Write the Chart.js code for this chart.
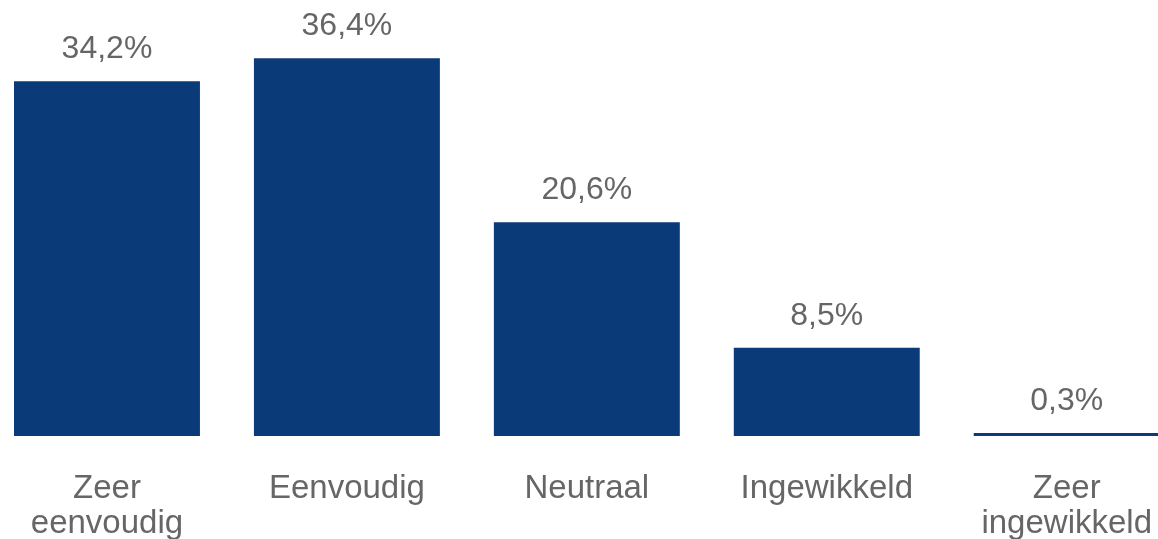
<!DOCTYPE html>
<html>
<head>
	<script src="https://cdn.jsdelivr.net/npm/chart.js@4/dist/chart.umd.min.js"></script>
	<style>
		html, body {
			margin: 0;
			padding: 0;
			background: #ffffff;
			overflow: hidden;
		}
		#wrapper {
			position: absolute;
			left: -13px;
			top: 0;
			width: 1200px;
			height: 539px;
		}
	</style>
</head>
<body>
	<div id="wrapper"><canvas id="myChart"></canvas></div>
	<script>
		// categories (multi-line labels) and percentages
		var categories = [["Zeer", "eenvoudig"], ["Eenvoudig"], ["Neutraal"], ["Ingewikkeld"], ["Zeer", "ingewikkeld"]];
		var percentages = [34.2, 36.4, 20.6, 8.5, 0.3];
		var valueLabels = ["34,2%", "36,4%", "20,6%", "8,5%", "0,3%"];

		var textColor = "#666666";
		var fontFamily = "'Liberation Sans', Arial, sans-serif";

		// draws the percentage above each bar
		var valueLabelPlugin = {
			id: 'valueLabels',
			afterDatasetsDraw: function(chart) {
				var ctx = chart.ctx;
				var meta = chart.getDatasetMeta(0);
				ctx.save();
				ctx.font = "32px " + fontFamily;
				ctx.fillStyle = textColor;
				ctx.textAlign = "center";
				ctx.textBaseline = "alphabetic";
				meta.data.forEach(function(bar, i) {
					ctx.fillText(valueLabels[i], bar.x, bar.y - 23);
				});
				ctx.restore();
			}
		};

		var ctx = document.getElementById("myChart");
		var myChart = new Chart(ctx, {
			type: 'bar',
			data: {
				labels: categories,
				datasets: [{
					data: percentages,
					backgroundColor: "#0b3a78",
					borderWidth: 0,
					categoryPercentage: 1,
					barPercentage: 0.775
				}]
			},
			options: {
				responsive: true,
				maintainAspectRatio: false,
				animation: false,
				layout: {
					padding: { top: 21, bottom: 0, left: 0, right: 0 }
				},
				plugins: {
					legend: { display: false },
					tooltip: { enabled: false }
				},
				scales: {
					x: {
						grid: { display: false, drawTicks: false },
						border: { display: false },
						ticks: {
							color: textColor,
							padding: 35,
							maxRotation: 0,
							autoSkip: false,
							font: { family: fontFamily, size: 33, lineHeight: 1.06 }
						},
						afterFit: function(scale) {
							scale.height = 103;
						}
					},
					y: {
						display: false,
						min: 0,
						max: 40
					}
				}
			},
			plugins: [valueLabelPlugin]
		});
	</script>
</body>
</html>
